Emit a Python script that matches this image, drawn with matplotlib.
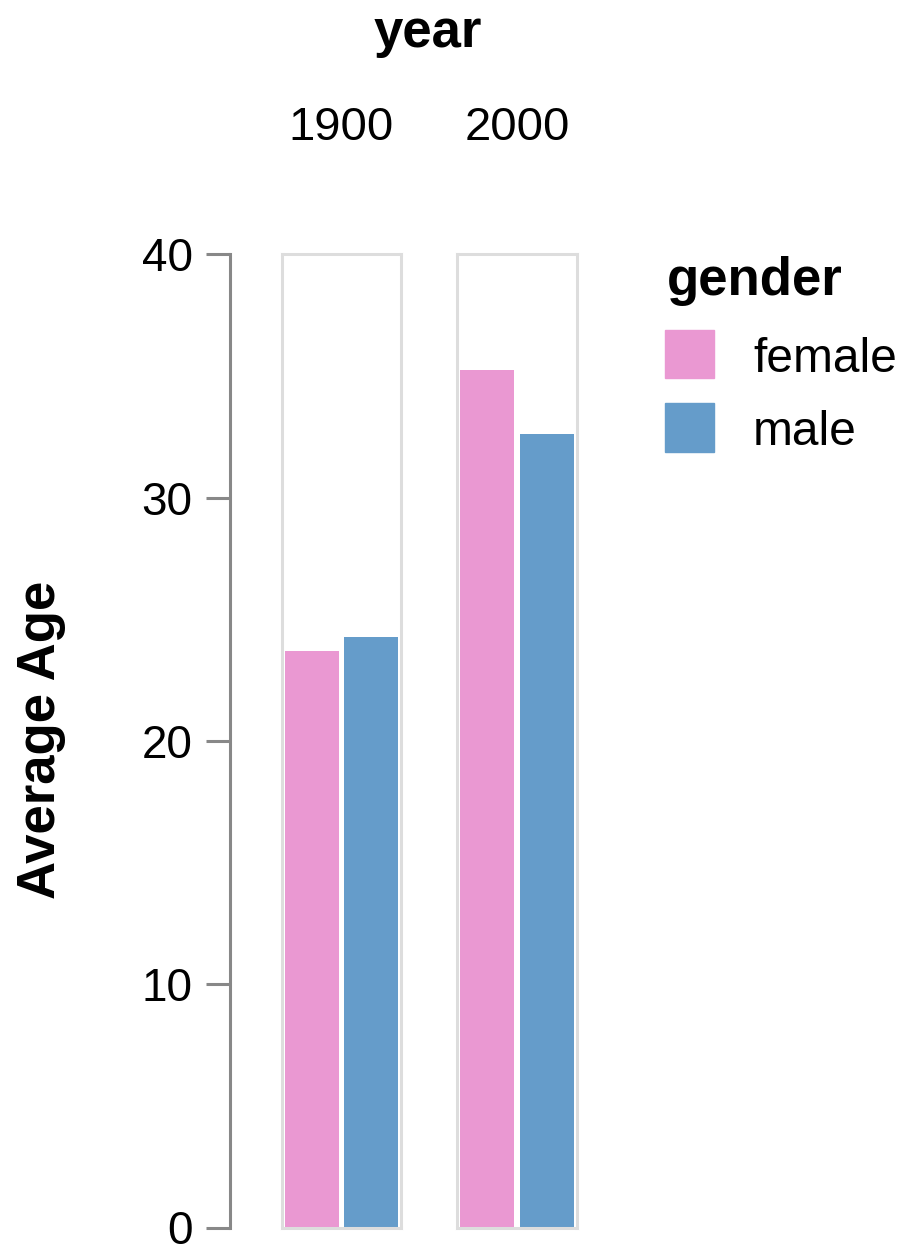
import matplotlib.pyplot as plt

plt.rcParams['font.family'] = ['Liberation Sans', 'DejaVu Sans']

years = ['1900', '2000']
genders = ['female', 'male']
avg_age = {
    'female': [23.70, 35.25],
    'male': [24.29, 32.61],
}
colors = ['#EA98D2', '#659CCA']
yticks = [0, 10, 20, 30, 40]

W, H = 906, 1246
fig = plt.figure(figsize=(W / 100, H / 100), dpi=100)


def box(left, top, right, bottom):
    # pixel box -> figure fraction
    return [left / W, 1 - bottom / H, (right - left) / W, (bottom - top) / H]


top, bottom = 254.5, 1227.5

# y axis drawn on its own, offset left of the facets
ax_y = fig.add_axes(box(230, top, 231, bottom))
ax_y.set_ylim(0, 40)
ax_y.set_yticks(yticks)
ax_y.set_xticks([])
for s in ['top', 'right', 'bottom']:
    ax_y.spines[s].set_visible(False)
ax_y.spines['left'].set_color('#888888')
ax_y.spines['left'].set_linewidth(2.2)
ax_y.tick_params(axis='y', length=17, width=2.2, color='#888888',
                 labelsize=33, pad=10)
ax_y.patch.set_alpha(0)

fig.text(16 / W, 1 - 740 / H, 'Average Age', rotation=90, ha='left',
         va='center', fontsize=38, fontweight='bold')

facet_x = [(282, 401), (457, 577)]
for i, year in enumerate(years):
    ax = fig.add_axes(box(facet_x[i][0], top, facet_x[i][1], bottom))
    for j, g in enumerate(genders):
        ax.bar(j, avg_age[g][i], width=0.9, color=colors[j])
    ax.set_xlim(-0.5, 1.5)
    ax.set_ylim(0, 40)
    ax.set_xticks([])
    ax.set_yticks([])
    for s in ax.spines.values():
        s.set_color('#dddddd')
        s.set_linewidth(2.2)
    fig.text((facet_x[i][0] + facet_x[i][1]) / 2 / W, 1 - 140 / H, year,
             ha='center', va='baseline', fontsize=34)

fig.text(428 / W, 1 - 47 / H, 'year', ha='center', va='baseline',
         fontsize=38, fontweight='bold')

# legend
fig.text(667 / W, 1 - 295 / H, 'gender', ha='left', va='baseline',
         fontsize=38, fontweight='bold')
leg_rows = [(330, 378, 372), (403, 452, 445)]
for j, g in enumerate(genders):
    t, b, base = leg_rows[j]
    fig.patches.append(plt.Rectangle((665 / W, 1 - b / H), 49 / W, (b - t) / H,
                                     transform=fig.transFigure,
                                     color=colors[j], figure=fig))
    fig.text(753 / W, 1 - base / H, g, ha='left', va='baseline',
             fontsize=34.5)

fig.savefig('out.png', dpi=100)
